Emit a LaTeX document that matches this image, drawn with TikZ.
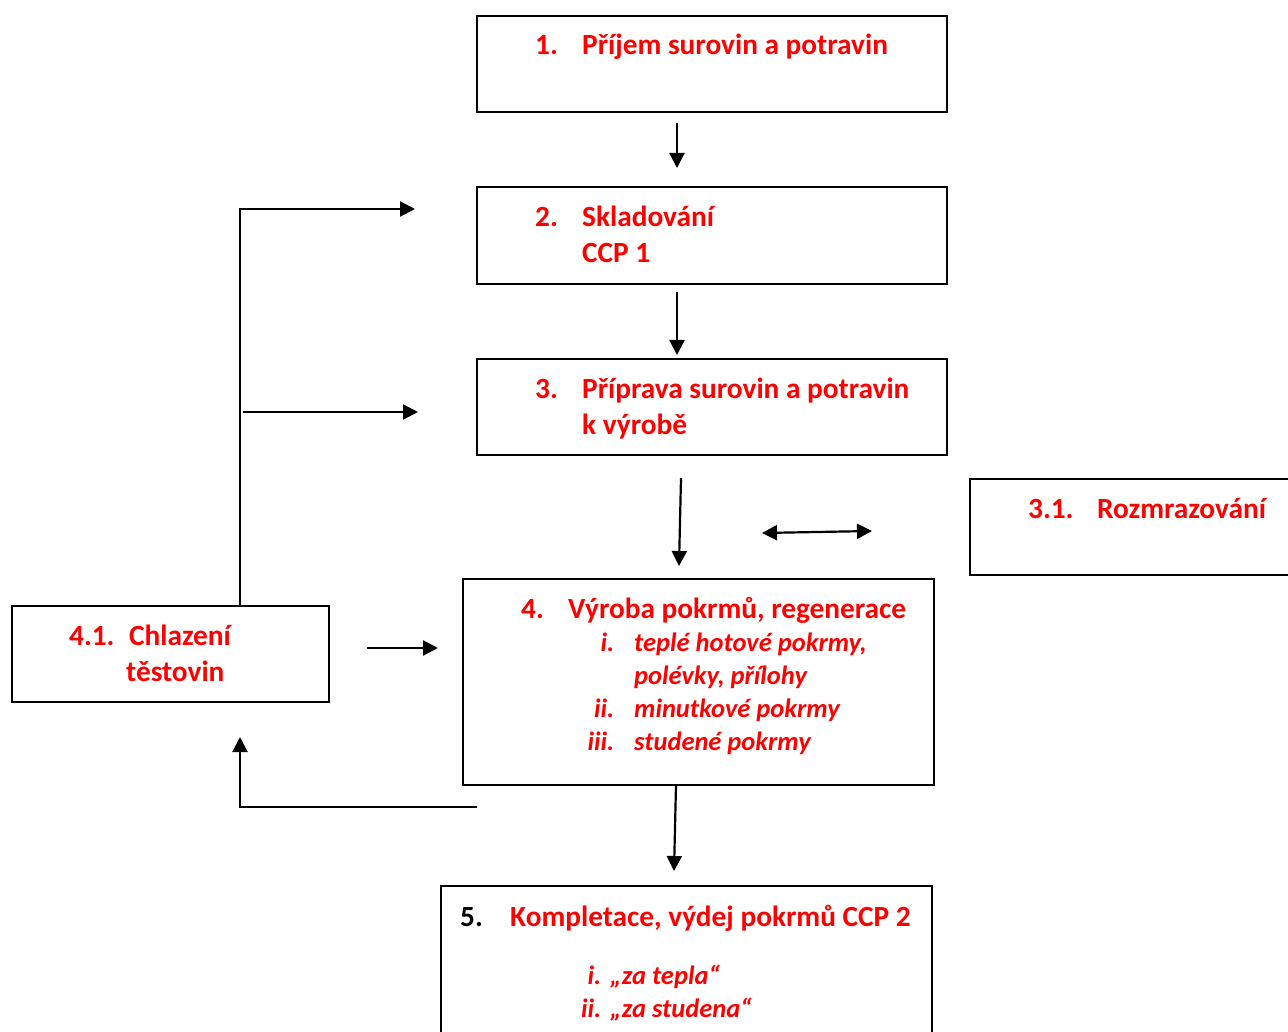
\documentclass[tikz,border=0pt]{standalone}
\usepackage{fontspec}
\setmainfont{Carlito}
\usetikzlibrary{
    arrows.meta,
    positioning,
    calc
}
\definecolor{haccpRed}{RGB}{255,0,0}
\newcommand{\headsize}{\fontsize{29.3}{36}\selectfont\bfseries}
\newcommand{\itemsize}{\fontsize{26.5}{33}\selectfont\bfseries\itshape}
\tikzset{
  box/.style   = {draw, line width=2pt, anchor=north west, inner sep=0pt},
  head/.style  = {anchor=base west, inner sep=0pt, text=haccpRed, font=\headsize},
  items/.style = {anchor=base west, inner sep=0pt, text=haccpRed, font=\itemsize},
  arr/.style   = {-{Triangle[length=15pt,width=15pt]}, line width=2.2pt},
  darr/.style  = {{Triangle[length=15pt,width=15pt]}-{Triangle[length=15pt,width=15pt]}, line width=2.2pt}
}

\begin{document}
\begin{tikzpicture}[x=1pt,y=-1pt]
\useasboundingbox (0,0) rectangle (1288,1032);
\clip (0,0) rectangle (1288,1032);
% boxes
\node[box, minimum width=470, minimum height=96] (b1) at (476,15) {};
\node[box, minimum width=470, minimum height=97] (b2) at (476,186) {};
\node[box, minimum width=470, minimum height=96] (b3) at (476,358) {};
\node[box, minimum width=340, minimum height=96] (b31) at (969,478) {};
\node[box, minimum width=471, minimum height=206] (b4) at (462,578) {};
\node[box, minimum width=317, minimum height=96] (b41) at (11,605) {};
\node[box, minimum width=491, minimum height=170] (b5) at (440,885) {};
% texts
\node[head] (t1) at (535,55) {\makebox[47pt][l]{1.}Příjem surovin a potravin};
\node[head] (t2) at (535,227) {\begin{tabular}[t]{@{}p{47pt}@{}l@{}}2. & Skladování\\ & CCP 1\end{tabular}};
\node[head] (t3) at (535,398) {\begin{tabular}[t]{@{}p{47pt}@{}l@{}}3. & Příprava surovin a potravin\\ & k výrobě\end{tabular}};
\node[head] (t31) at (1028,518) {\makebox[69pt][l]{3.1.}Rozmrazování};
\node[head] (t4) at (521,618) {\makebox[47pt][l]{4.}Výroba pokrmů, regenerace};
\node[items] (t4i) at (574,651) {\begin{tabular}[t]{@{}l@{\hspace{20pt}}l@{}}
  \makebox[40pt][r]{i.} & teplé hotové pokrmy,\\
   & polévky, přílohy\\
  \makebox[40pt][r]{ii.} & minutkové pokrmy\\
  \makebox[40pt][r]{iii.} & studené pokrmy\end{tabular}};
\node[head] (t41) at (69,645) {\begin{tabular}[t]{@{}p{60pt}@{}l@{}}4.1. & Chlazení\\ & \hspace{-3pt}těstovin\end{tabular}};
\node[head] (t5) at (460,926) {\makebox[50pt][l]{\textcolor{black}{5.}}Kompletace, výdej pokrmů CCP 2};
\node[items] (t5i) at (561,984) {\begin{tabular}[t]{@{}l@{\hspace{9pt}}l@{}}
  \makebox[40pt][r]{i.} & „za tepla“\\
  \makebox[40pt][r]{ii.} & „za studena“\end{tabular}};
% arrow ends
\coordinate (a1s) at (677,123);
\coordinate (a1e) at (677,168);
\coordinate (a2s) at (677,292);
\coordinate (a2e) at (677,355);
\coordinate (a3s) at (681,478);
\coordinate (a3e) at (679,566);
\coordinate (rzl) at (762,533);
\coordinate (rzr) at (872,531);
\coordinate (a41s) at (367,648);
\coordinate (a41e) at (438,648);
\coordinate (a5s) at (676,785);
\coordinate (a5e) at (674,871);
\coordinate (fbs) at (240,605);
\coordinate (fbe) at (415,209);
\coordinate (fbm) at (243,412);
\coordinate (fbme) at (418,412);
\coordinate (rts) at (477,807);
\coordinate (rte) at (240,737);
% arrows
\draw[arr] (a1s) -- (a1e);
\draw[arr] (a2s) -- (a2e);
\draw[arr] (a3s) -- (a3e);
\draw[darr] (rzl) -- (rzr);
\draw[arr] (a41s) -- (a41e);
\draw[arr] (a5s) -- (a5e);
\draw[arr] (fbs) |- (fbe);
\draw[arr] (fbm) -- (fbme);
\draw[arr] (rts) -| (rte);
\end{tikzpicture}
\end{document}
